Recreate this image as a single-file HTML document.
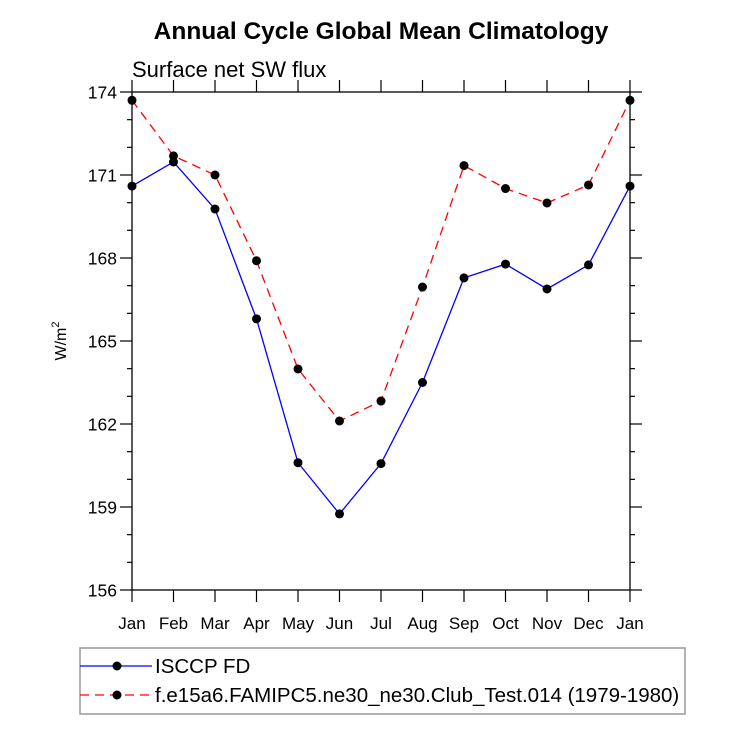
<!DOCTYPE html>
<html><head><meta charset="utf-8"><style>
body{margin:0;background:#fff;}
svg{display:block;font-family:"Liberation Sans",sans-serif;}
</style></head><body>
<svg id="c" width="733" height="734" xmlns="http://www.w3.org/2000/svg">
<text x="381" y="39" text-anchor="middle" font-size="24.5" font-weight="bold">Annual Cycle Global Mean Climatology</text>
<text x="132" y="77" font-size="22">Surface net SW flux</text>
<text transform="translate(66,341) rotate(-90)" text-anchor="middle" font-size="16">W/m<tspan dy="-7" font-size="11">2</tspan></text>
<g id="axes"></g><g id="series"></g>
<rect x="80" y="648" width="605" height="66" fill="none" stroke="#999" stroke-width="1.5"/>
<g>
<line x1="80" y1="666" x2="152" y2="666" stroke="#00f" stroke-width="1.3"/><circle cx="117" cy="666" r="4.5"/>
<text x="155" y="673" font-size="20.5">ISCCP FD</text></g>
<g>
<line x1="80" y1="695" x2="152" y2="695" stroke="#f00" stroke-width="1.3" stroke-dasharray="9,6"/><circle cx="117" cy="695" r="4.5"/>
<text x="155" y="702" font-size="20.5">f.e15a6.FAMIPC5.ne30_ne30.Club_Test.014 (1979-1980)</text></g>
</svg>
<script>
const months=["Jan","Feb","Mar","Apr","May","Jun","Jul","Aug","Sep","Oct","Nov","Dec","Jan"];
const yTicks=[156,159,162,165,168,171,174];
const isccp=[170.6,171.47,169.77,165.8,160.6,158.75,160.57,163.5,167.28,167.78,166.88,167.75,170.6];
const model=[173.7,171.69,171.0,167.9,163.99,162.11,162.83,166.95,171.34,170.51,169.99,170.64,173.7];
const X0=132,X1=630,Y0=590,Y1=92,ymin=156,ymax=174;
const xs=i=>X0+(X1-X0)*i/(months.length-1);
const ys=v=>Y0-(v-ymin)/(ymax-ymin)*(Y0-Y1);
const NS="http://www.w3.org/2000/svg";
function mk(t,a,p){const e=document.createElementNS(NS,t);for(const k in a)e.setAttribute(k,a[k]);p.appendChild(e);return e;}
const ax=document.getElementById('axes');
const fr=mk('rect',{x:X0,y:Y1,width:X1-X0,height:Y0-Y1,fill:'none',stroke:'#000','stroke-width':1.3},ax);


for(let v=ymin;v<=ymax;v++){const y=ys(v),maj=(v-ymin)%3===0,L=maj?12:5;
mk('line',{x1:X0-L,y1:y,x2:X0,y2:y,stroke:'#000','stroke-width':1.2},ax);
mk('line',{x1:X1,y1:y,x2:X1+L,y2:y,stroke:'#000','stroke-width':1.2},ax);}
yTicks.forEach(v=>{const t=mk('text',{x:X0-15,y:ys(v)+6.5,'text-anchor':'end','font-size':17.5},ax);t.textContent=v;

});
months.forEach((m,i)=>{const x=xs(i);
mk('line',{x1:x,y1:Y0,x2:x,y2:Y0+12,stroke:'#000','stroke-width':1.2},ax);
mk('line',{x1:x,y1:Y1-12,x2:x,y2:Y1,stroke:'#000','stroke-width':1.2},ax);
const t=mk('text',{x:x,y:629,'text-anchor':'middle','font-size':17},ax);t.textContent=m;

});
const sg=document.getElementById('series');
function draw(d,col,dash,name){const g=mk('g',{},sg);


mk('polyline',{points:d.map((v,i)=>xs(i)+','+ys(v)).join(' '),fill:'none',stroke:col,'stroke-width':1.3,'stroke-dasharray':dash},g);
d.forEach((v,i)=>{const c=mk('circle',{cx:xs(i),cy:ys(v),r:4.5},g);

});}
draw(model,'#f00','9,6','series-model');
draw(isccp,'#00f','none','series-isccp');
</script>
</body></html>
